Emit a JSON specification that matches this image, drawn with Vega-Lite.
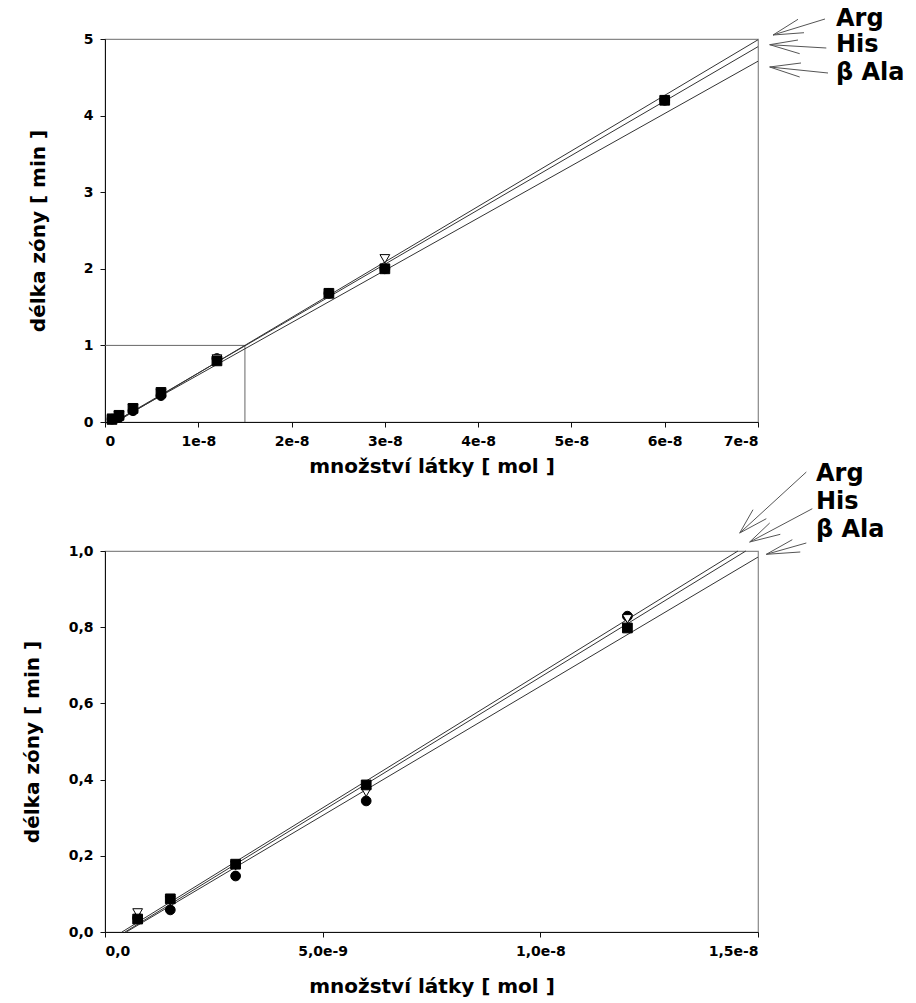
{
  "$schema": "https://vega.github.io/schema/vega-lite/v6.json",
  "padding": {"left": 21, "top": 6, "right": 2, "bottom": 2},
  "autosize": {"type": "pad"},
  "bounds": "flush",
  "spacing": 129,
  "config": {
    "font": "DejaVu Sans",
    "view": {"stroke": "#888888", "strokeWidth": 1.2},
    "axis": {
      "grid": false,
      "domainColor": "#111111",
      "tickColor": "#111111",
      "tickSize": 5,
      "labelFont": "DejaVu Sans",
      "labelFontWeight": "bold",
      "labelFontSize": 14,
      "labelColor": "#000000",
      "labelPadding": 7,
      "titleFont": "DejaVu Sans",
      "titleFontWeight": "bold",
      "titleFontSize": 20,
      "titleColor": "#000000"
    }
  },
  "datasets": {
    "pts": [
      {"s": "Arg", "x": 7.5e-10, "y": 0.037},
      {"s": "Arg", "x": 1.5e-9, "y": 0.058},
      {"s": "Arg", "x": 3e-9, "y": 0.147},
      {"s": "Arg", "x": 6e-9, "y": 0.344},
      {"s": "Arg", "x": 1.2e-8, "y": 0.829},
      {"s": "Arg", "x": 2.4e-8, "y": 1.68},
      {"s": "Arg", "x": 3e-8, "y": 2.0},
      {"s": "Arg", "x": 6e-8, "y": 4.2},
      {"s": "His", "x": 7.5e-10, "y": 0.05},
      {"s": "His", "x": 1.5e-9, "y": 0.082},
      {"s": "His", "x": 3e-9, "y": 0.174},
      {"s": "His", "x": 6e-9, "y": 0.367},
      {"s": "His", "x": 1.2e-8, "y": 0.822},
      {"s": "His", "x": 3e-8, "y": 2.13},
      {"s": "βAla", "x": 7.5e-10, "y": 0.034},
      {"s": "βAla", "x": 1.5e-9, "y": 0.087},
      {"s": "βAla", "x": 3e-9, "y": 0.178},
      {"s": "βAla", "x": 6e-9, "y": 0.386},
      {"s": "βAla", "x": 1.2e-8, "y": 0.798},
      {"s": "βAla", "x": 2.4e-8, "y": 1.68},
      {"s": "βAla", "x": 3e-8, "y": 2.0},
      {"s": "βAla", "x": 6e-8, "y": 4.2}
    ],
    "fitTop": [
      {"s": "Arg", "x": 1.2e-9, "y": 0, "x2": 7e-8, "y2": 4.99},
      {"s": "His", "x": 1.0e-9, "y": 0, "x2": 7e-8, "y2": 4.9},
      {"s": "βAla", "x": 1.0e-9, "y": 0, "x2": 7e-8, "y2": 4.71}
    ],
    "fitBottom": [
      {"s": "Arg", "x": 3.9e-10, "y": 0, "x2": 1.454e-8, "y2": 1.0},
      {"s": "His", "x": 4.6e-10, "y": 0, "x2": 1.472e-8, "y2": 1.0},
      {"s": "βAla", "x": 4.9e-10, "y": 0, "x2": 1.5e-8, "y2": 0.984}
    ],
    "box": [
      {"x": 0, "y": 1, "x2": 1.5e-8, "y2": 1},
      {"x": 1.5e-8, "y": 0, "x2": 1.5e-8, "y2": 1}
    ],
    "arrowTop": [
      {"s": "Arg", "x": 7.7182e-8, "y": 5.2611, "x2": 7.1608e-8, "y2": 5.0522},
      {"s": "Arg", "x": 7.4288e-8, "y": 5.2572, "x2": 7.1608e-8, "y2": 5.0522},
      {"s": "Arg", "x": 7.4931e-8, "y": 5.0822, "x2": 7.1608e-8, "y2": 5.0522},
      {"s": "His", "x": 7.7322e-8, "y": 4.8825, "x2": 7.1254e-8, "y2": 4.9256},
      {"s": "His", "x": 7.4288e-8, "y": 4.9869, "x2": 7.1254e-8, "y2": 4.9256},
      {"s": "His", "x": 7.447e-8, "y": 4.8081, "x2": 7.1254e-8, "y2": 4.9256},
      {"s": "βAla", "x": 7.7504e-8, "y": 4.5561, "x2": 7.1254e-8, "y2": 4.6345},
      {"s": "βAla", "x": 7.461e-8, "y": 4.6867, "x2": 7.1254e-8, "y2": 4.6345},
      {"s": "βAla", "x": 7.447e-8, "y": 4.5039, "x2": 7.1254e-8, "y2": 4.6345}
    ],
    "arrowBottom": [
      {"s": "Arg", "x": 1.611e-8, "y": 1.2073, "x2": 1.458e-8, "y2": 1.0472},
      {"s": "Arg", "x": 1.4885e-8, "y": 1.1084, "x2": 1.458e-8, "y2": 1.0472},
      {"s": "Arg", "x": 1.5191e-8, "y": 1.0848, "x2": 1.458e-8, "y2": 1.0472},
      {"s": "His", "x": 1.6247e-8, "y": 1.111, "x2": 1.4809e-8, "y2": 1.0236},
      {"s": "His", "x": 1.5269e-8, "y": 1.0735, "x2": 1.4809e-8, "y2": 1.0236},
      {"s": "His", "x": 1.5512e-8, "y": 1.0438, "x2": 1.4809e-8, "y2": 1.0236},
      {"s": "βAla", "x": 1.611e-8, "y": 1.021, "x2": 1.5191e-8, "y2": 0.9913},
      {"s": "βAla", "x": 1.5788e-8, "y": 1.0297, "x2": 1.5191e-8, "y2": 0.9913},
      {"s": "βAla", "x": 1.5971e-8, "y": 0.9974, "x2": 1.5191e-8, "y2": 0.9913}
    ],
    "labelTop": [
      {"t": "Arg", "x": 7.8361e-8, "y": 5.2611},
      {"t": "His", "x": 7.8361e-8, "y": 4.9217},
      {"t": "β Ala", "x": 7.8361e-8, "y": 4.5561}
    ],
    "labelBottom": [
      {"t": "Arg", "x": 1.6332e-8, "y": 1.2021},
      {"t": "His", "x": 1.6332e-8, "y": 1.1286},
      {"t": "β Ala", "x": 1.6332e-8, "y": 1.0551}
    ]
  },
  "vconcat": [
    {
      "width": 653,
      "height": 383,
      "encoding": {
        "x": {
          "field": "x", "type": "quantitative",
          "scale": {"domain": [0, 7e-8], "nice": false, "zero": false},
          "axis": {
            "title": "množství látky [ mol ]",
            "values": [0, 1e-8, 2e-8, 3e-8, 4e-8, 5e-8, 6e-8, 7e-8],
            "labelExpr": "datum.value == 0 ? '0' : round(datum.value * 1e8) + 'e-8'",
            "titlePadding": 8
          }
        },
        "y": {
          "field": "y", "type": "quantitative",
          "scale": {"domain": [0, 5], "nice": false, "zero": false},
          "axis": {
            "title": "délka zóny [ min ]",
            "values": [0, 1, 2, 3, 4, 5],
            "format": "d",
            "titlePadding": 35
          }
        }
      },
      "layer": [
        {
          "data": {"name": "box"},
          "mark": {"type": "rule", "color": "#666666", "strokeWidth": 1},
          "encoding": {"x2": {"field": "x2"}, "y2": {"field": "y2"}}
        },
        {
          "data": {"name": "fitTop"},
          "mark": {"type": "rule", "color": "#333333", "strokeWidth": 1},
          "encoding": {"x2": {"field": "x2"}, "y2": {"field": "y2"}}
        },
        {
          "data": {"name": "arrowTop"},
          "mark": {"type": "rule", "color": "#555555", "strokeWidth": 1},
          "encoding": {"x2": {"field": "x2"}, "y2": {"field": "y2"}}
        },
        {
          "data": {"name": "labelTop"},
          "mark": {"type": "text", "align": "left", "baseline": "middle", "fontSize": 24, "fontWeight": "bold", "font": "DejaVu Sans", "color": "#000000"},
          "encoding": {"text": {"field": "t"}}
        },
        {
          "data": {"name": "pts"},
          "mark": {"type": "point", "filled": true, "stroke": "#000000", "strokeWidth": 1, "opacity": 1, "size": 95},
          "encoding": {
            "shape": {"field": "s", "type": "nominal", "scale": {"domain": ["Arg", "His", "βAla"], "range": ["circle", "triangle-down", "square"]}, "legend": null},
            "fill": {"field": "s", "type": "nominal", "scale": {"domain": ["Arg", "His", "βAla"], "range": ["#000000", "#ffffff", "#000000"]}, "legend": null}
          }
        }
      ]
    },
    {
      "width": 653,
      "height": 381,
      "encoding": {
        "x": {
          "field": "x", "type": "quantitative",
          "scale": {"domain": [0, 1.5e-8], "nice": false, "zero": false},
          "axis": {
            "title": "množství látky [ mol ]",
            "values": [0, 5e-9, 1e-8, 1.5e-8],
            "labelExpr": "datum.value == 0 ? '0,0' : (datum.value < 9e-9 ? replace(format(datum.value * 1e9, '.1f'), '.', ',') + 'e-9' : replace(format(datum.value * 1e8, '.1f'), '.', ',') + 'e-8')",
            "titlePadding": 18
          }
        },
        "y": {
          "field": "y", "type": "quantitative",
          "scale": {"domain": [0, 1], "nice": false, "zero": false},
          "axis": {
            "title": "délka zóny [ min ]",
            "values": [0, 0.2, 0.4, 0.6, 0.8, 1.0],
            "labelExpr": "replace(format(datum.value, '.1f'), '.', ',')",
            "titlePadding": 26
          }
        }
      },
      "layer": [
        {
          "data": {"name": "fitBottom"},
          "mark": {"type": "rule", "color": "#333333", "strokeWidth": 1},
          "encoding": {"x2": {"field": "x2"}, "y2": {"field": "y2"}}
        },
        {
          "data": {"name": "arrowBottom"},
          "mark": {"type": "rule", "color": "#555555", "strokeWidth": 1},
          "encoding": {"x2": {"field": "x2"}, "y2": {"field": "y2"}}
        },
        {
          "data": {"name": "labelBottom"},
          "mark": {"type": "text", "align": "left", "baseline": "middle", "fontSize": 24, "fontWeight": "bold", "font": "DejaVu Sans", "color": "#000000"},
          "encoding": {"text": {"field": "t"}}
        },
        {
          "data": {"name": "pts"},
          "transform": [{"filter": "datum.x <= 1.5e-8"}],
          "mark": {"type": "point", "filled": true, "stroke": "#000000", "strokeWidth": 1, "opacity": 1, "size": 95},
          "encoding": {
            "shape": {"field": "s", "type": "nominal", "scale": {"domain": ["Arg", "His", "βAla"], "range": ["circle", "triangle-down", "square"]}, "legend": null},
            "fill": {"field": "s", "type": "nominal", "scale": {"domain": ["Arg", "His", "βAla"], "range": ["#000000", "#ffffff", "#000000"]}, "legend": null}
          }
        }
      ]
    }
  ]
}
